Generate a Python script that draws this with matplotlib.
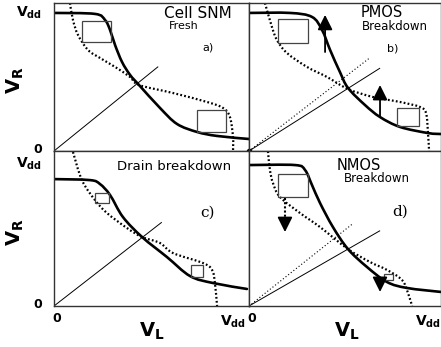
import numpy as np
import matplotlib.pyplot as plt
from matplotlib.path import Path
from matplotlib.patches import PathPatch

# curvas de transferencia (VR vs VL) leidas a ojo de la figura
# panel a) celda fresca
a_sol_x = [0, 0.229, 0.285, 0.313, 0.341, 0.380, 0.425, 0.475, 0.592, 0.687, 0.799, 0.911, 1.089]
a_sol_y = [1.0, 0.993, 0.949, 0.877, 0.768, 0.645, 0.551, 0.478, 0.312, 0.196, 0.138, 0.109, 0.087]
a_dot_x = [0.089, 0.106, 0.134, 0.19, 0.257, 0.341, 0.425, 0.475, 0.665, 0.855, 0.944, 0.983, 1.0, 1.0]
a_dot_y = [1.072, 0.949, 0.841, 0.732, 0.674, 0.609, 0.536, 0.478, 0.42, 0.355, 0.312, 0.246, 0.101, 0.0]
# panel b) PMOS breakdown
b_sol_x = [0, 0.229, 0.352, 0.408, 0.453, 0.508, 0.553, 0.648, 0.732, 0.844, 1.0, 1.073]
b_sol_y = [1.0, 1.0, 0.971, 0.877, 0.732, 0.572, 0.457, 0.333, 0.246, 0.174, 0.130, 0.123]
b_dot_x = [0.089, 0.128, 0.156, 0.212, 0.324, 0.436, 0.553, 0.693, 0.844, 0.955, 0.989, 1.0, 1.006]
b_dot_y = [1.072, 0.899, 0.804, 0.710, 0.609, 0.536, 0.449, 0.391, 0.355, 0.319, 0.275, 0.130, 0.0]
# panel c) drain breakdown
c_sol_x = [0, 0.201, 0.257, 0.313, 0.385, 0.492, 0.631, 0.760, 0.888, 1.078]
c_sol_y = [0.894, 0.887, 0.859, 0.782, 0.627, 0.486, 0.345, 0.211, 0.162, 0.120]
c_dot_x = [0.106, 0.156, 0.229, 0.296, 0.408, 0.492, 0.592, 0.665, 0.832, 0.883, 0.899, 0.911]
c_dot_y = [1.085, 0.887, 0.746, 0.655, 0.549, 0.486, 0.444, 0.373, 0.303, 0.254, 0.162, 0.0]
# panel d) NMOS breakdown
d_sol_x = [0, 0.257, 0.313, 0.352, 0.397, 0.469, 0.553, 0.659, 0.771, 0.883, 1.073]
d_sol_y = [0.993, 0.993, 0.958, 0.852, 0.725, 0.556, 0.401, 0.275, 0.169, 0.127, 0.099]
d_dot_x = [0.106, 0.117, 0.134, 0.173, 0.285, 0.397, 0.553, 0.676, 0.771, 0.855, 0.888, 0.911]
d_dot_y = [1.09, 0.958, 0.866, 0.768, 0.655, 0.556, 0.401, 0.310, 0.254, 0.183, 0.092, 0.0]

# cuadrados SNM: (x0, y0, ancho, alto)
a_boxes = [(0.156, 0.790, 0.162, 0.152), (0.799, 0.138, 0.162, 0.159)]
b_boxes = [(0.162, 0.783, 0.168, 0.174), (0.827, 0.181, 0.123, 0.131)]
c_boxes = [(0.229, 0.725, 0.078, 0.071), (0.765, 0.204, 0.067, 0.085)]
d_boxes = [(0.162, 0.768, 0.168, 0.162), (0.754, 0.183, 0.050, 0.042)]

# rectas diagonales: pendiente y hasta donde llegan
a_diag = (1.05, 0.58)
b_diag = (0.82, 0.73)
c_diag = (0.98, 0.60)
d_diag = (0.725, 0.73)

W, H = 441, 347
fig = plt.figure(figsize=(W / 100, H / 100), dpi=100)

def caja(px0, py0, px1, py1):
    return [px0 / W, 1 - py1 / H, (px1 - px0) / W, (py1 - py0) / H]

def suave(ax, xs, ys, **kw):
    # curva suave que pasa por los puntos (Catmull-Rom pasado a Bezier)
    p = np.column_stack([xs, ys])
    verts = [p[0]]
    codes = [Path.MOVETO]
    for i in range(len(p) - 1):
        p0 = p[i - 1] if i > 0 else p[i]
        p3 = p[i + 2] if i + 2 < len(p) else p[i + 1]
        verts += [p[i] + (p[i + 1] - p0) / 6, p[i + 1] - (p3 - p[i]) / 6, p[i + 1]]
        codes += [Path.CURVE4] * 3
    ax.add_patch(PathPatch(Path(verts, codes), fill=False, **kw))

axa = fig.add_axes(caja(54, 3, 249, 151))
axb = fig.add_axes(caja(249, 3, 440.5, 151))
axc = fig.add_axes(caja(54, 151, 249, 306))
axd = fig.add_axes(caja(249, 151, 440.5, 306))

paneles = [
    (axa, a_sol_x, a_sol_y, a_dot_x, a_dot_y, a_boxes, a_diag, 1.072),
    (axb, b_sol_x, b_sol_y, b_dot_x, b_dot_y, b_boxes, b_diag, 1.072),
    (axc, c_sol_x, c_sol_y, c_dot_x, c_dot_y, c_boxes, c_diag, 1.092),
    (axd, d_sol_x, d_sol_y, d_dot_x, d_dot_y, d_boxes, d_diag, 1.092),
]

for ax, sx, sy, dx, dy, boxes, diag, ytop in paneles:
    suave(ax, sx, sy, ec='black', lw=1.9, capstyle='round')
    suave(ax, dx, dy, ec='black', lw=1.6, linestyle=(0, (0.8, 1.0)))
    m, xe = diag
    ax.plot([0, xe], [0, m * xe], color='black', lw=0.7)
    for (x0, y0, w, h) in boxes:
        ax.add_patch(plt.Rectangle((x0, y0), w, h, fill=False, ec='#444444', lw=0.9))
    ax.set_xlim(0, ax.get_position().width * W / 179)
    ax.set_ylim(0, ytop)
    ax.set_xticks([])
    ax.set_yticks([])
    for s in ax.spines.values():
        s.set_color('#333333')
        s.set_linewidth(1.0)

# lineas y=x punteadas de referencia en b) y d)
axb.plot([0, 0.67], [0, 0.67], color='black', lw=0.8, linestyle=(0, (1, 2)))
axd.plot([0, 0.58], [0, 0.58], color='black', lw=0.8, linestyle=(0, (1, 2)))
axb.plot([0.0], [0.0], 'ko', ms=3, clip_on=False)

# flechas
def flecha(ax, x, y0, y1):
    ax.annotate('', xy=(x, y1), xytext=(x, y0),
                arrowprops=dict(arrowstyle='-|>,head_width=0.45,head_length=0.9',
                                color='black', lw=1.3, shrinkA=0, shrinkB=0))

flecha(axb, 0.425, 0.717, 0.986)
flecha(axb, 0.732, 0.246, 0.478)
axd.plot([0.201, 0.201], [0.76, 0.58], color='black', lw=1.5, linestyle=(0, (1, 1)), zorder=3)
flecha(axd, 0.201, 0.60, 0.521)
flecha(axd, 0.732, 0.20, 0.099)

# textos de los paneles
axa.text(0.806, 0.993, 'Cell SNM', fontsize=11, ha='center', va='center')
axa.text(0.726, 0.905, 'Fresh', fontsize=8, ha='center', va='center')
axa.text(0.860, 0.752, 'a)', fontsize=8, ha='center', va='center')
axb.text(0.743, 1.005, 'PMOS', fontsize=10.5, ha='center', va='center')
axb.text(0.816, 0.905, 'Breakdown', fontsize=8.5, ha='center', va='center')
axb.text(0.804, 0.746, 'b)', fontsize=8, ha='center', va='center')
axc.text(0.670, 0.985, 'Drain breakdown', fontsize=9.5, ha='center', va='center')
axc.text(0.855, 0.655, 'c)', fontsize=11, family='DejaVu Serif', ha='center', va='center')
axd.text(0.615, 0.990, 'NMOS', fontsize=10.5, ha='center', va='center')
axd.text(0.715, 0.895, 'Breakdown', fontsize=8.5, ha='center', va='center')
axd.text(0.843, 0.662, 'd)', fontsize=11, family='DejaVu Serif', ha='center', va='center')

# etiquetas de ejes
vdd = r'$\mathbf{V}_{\mathbf{dd}}$'
for ax in (axa, axc):
    ax.text(-0.14, 1.0, vdd, fontsize=10, ha='center', va='center', clip_on=False)
    ax.text(-0.09, 0.01, '0', fontsize=9, fontweight='bold', ha='center', va='center', clip_on=False)
for ax in (axc, axd):
    ax.text(0.015, -0.09, '0', fontsize=9, fontweight='bold', ha='center', va='center', clip_on=False)
    ax.text(1.0, -0.11, vdd, fontsize=10, ha='center', va='center', clip_on=False)
    ax.text(0.545, -0.18, r'$\mathbf{V}_{\mathbf{L}}$', fontsize=14, ha='center', va='center', clip_on=False)
fig.text(15 / W, 1 - 80 / H, r'$\mathbf{V}_{\mathbf{R}}$', fontsize=14, rotation=90, ha='center', va='center')
fig.text(15 / W, 1 - 232 / H, r'$\mathbf{V}_{\mathbf{R}}$', fontsize=14, rotation=90, ha='center', va='center')

fig.savefig('out.png', dpi=100)
